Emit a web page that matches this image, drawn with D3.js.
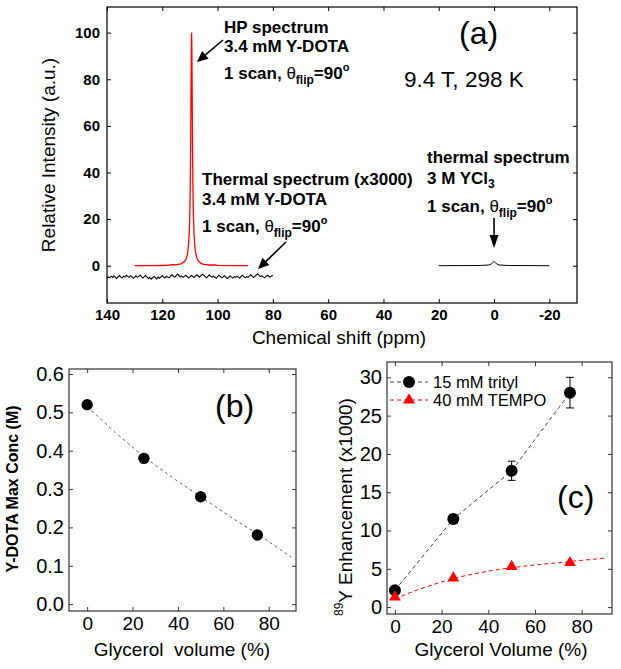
<!DOCTYPE html>
<html><head><meta charset="utf-8">
<script src="https://cdn.jsdelivr.net/npm/d3@7"></script>
<style>
body{margin:0;background:#fff}
svg{display:block}
text{font-family:"Liberation Sans",Arial,Helvetica,sans-serif}
</style>
</head><body>
<svg id="chart" width="621" height="669"></svg>
<script>
// ---------- DATA ----------
// (a) HP spectrum of 3.4 mM Y-DOTA (ppm, relative intensity)
const hpPpm = [130,125,120,118,116.6,115,113,112,111.5,111,110.8,110.5,110.3,110.1,110.0,109.9,109.8,109.7,109.6,109.5,109.45,109.4,109.35,109.3,109.2,109.1,109.0,108.9,108.8,108.7,108.5,108.3,108.0,107.5,107,106,105,103,101,100,95,89];
const hpInt = [0,0.05,0.1,0.15,0.5,0.4,0.9,1.8,2.6,4.4,5.9,9.2,13.1,20.0,25.4,32.9,43.4,57.6,75.4,92.5,98,100,97,93,75.4,57.6,43.4,32.9,25.4,20.0,13.1,9.2,5.9,3.3,2.1,1.0,0.6,0.3,0.35,0.15,0.05,0];
// (a) thermal spectrum x3000 (noise), sampled from 140 to 80 ppm
const thermalRange = [140, 80];
const thermalInt = [
-5.4,-4.8,-5.2,-4.5,-5.0,-4.3,-4.9,-5.5,-4.7,-4.2,
-4.9,-5.2,-4.5,-4.8,-4.1,-4.6,-5.0,-4.3,-4.7,-5.4,
-4.9,-4.4,-5.0,-4.6,-4.0,-4.8,-5.3,-4.7,-4.2,-4.9,
-5.6,-5.0,-5.8,-5.2,-4.6,-5.1,-5.7,-4.9,-5.4,-4.8,
-4.2,-4.9,-5.3,-4.5,-4.9,-5.2,-4.4,-3.9,-4.6,-5.0,
-4.3,-3.6,-4.2,-4.8,-4.4,-5.0,-4.6,-4.1,-4.7,-5.3,
-4.8,-4.2,-4.6,-5.1,-4.5,-3.9,-4.4,-4.9,-4.3,-3.7,
-4.1,-4.7,-5.2,-4.6,-4.0,-4.5,-5.0,-4.4,-4.9,-5.4,
-4.7,-4.1,-4.6,-5.2,-4.8,-4.3,-4.9,-5.5,-5.0,-4.4,
-4.8,-5.3,-4.7,-5.0,-4.5,-4.9,-5.4,-4.6,-4.1,-4.7,
-5.2,-4.6,-5.0,-4.4,-3.9,-4.5,-5.1,-4.6,-4.0,-3.5,
-4.1,-4.7,-4.3,-4.8,-5.2,-4.6,-4.1,-4.5,-4.9,-4.4,
-4.2];
// (a) thermal spectrum of 3 M YCl3
const yclPpm = [20,5,2,1,0.5,0,-0.5,-1,-2,-5,-20];
const yclInt = [0,0.1,0.3,0.7,1.3,1.9,1.3,0.7,0.3,0.1,0];
const shiftTicks = [140,120,100,80,60,40,20,0,-20];
const intensityTicks = [0,20,40,60,80,100];

// (b) Y-DOTA max concentration vs glycerol volume
const glycerol = [0,25,50,75];
const maxConc = [0.52,0.38,0.28,0.18];
const concFitX = [0,12.5,25,37.5,50,62.5,75,90];
const concFitY = [0.515,0.447,0.384,0.33,0.28,0.23,0.183,0.122];
const glycerolTicks = [0,20,40,60,80];
const concTicks = [0,0.1,0.2,0.3,0.4,0.5,0.6];

// (c) 89Y enhancement vs glycerol volume
const seriesNames = ["15 mM trityl","40 mM TEMPO"];
const tritylEnh = [2.2,11.5,17.8,28.0];
const tritylErr = [0.3,0.6,1.25,2.0];
const tempoEnh = [1.3,3.8,5.3,5.8];
const tempoFitX = [0,10,20,30,40,50,60,70,80,90];
const tempoFitY = [1.1,2.3,3.3,4.1,4.7,5.15,5.5,5.8,6.1,6.4];
const enhTicks = [0,5,10,15,20,25,30];

// ---------- DRAW ----------
const svg = d3.select("#chart");
svg.append("rect").attr("width",621).attr("height",669).attr("fill","#fff");
const plainInt = d => String(d);

function frame(g, x, y, xt, yt, o){
  const [x0,x1] = x.range(), [y0,y1] = y.range();
  const ax = g.append("g").attr("transform",`translate(0,${y0})`)
    .call(d3.axisBottom(x).tickValues(xt).tickSizeInner(-4).tickSizeOuter(0).tickPadding(o.xpad).tickFormat(o.xfmt||plainInt));
  const ay = g.append("g").attr("transform",`translate(${x0},0)`)
    .call(d3.axisLeft(y).tickValues(yt).tickSizeInner(-4).tickSizeOuter(0).tickPadding(o.ypad).tickFormat(o.yfmt||plainInt));
  const at = g.append("g").attr("transform",`translate(0,${y1})`)
    .call(d3.axisTop(x).tickValues(xt).tickSizeInner(-4).tickSizeOuter(0).tickFormat(""));
  const ar = g.append("g").attr("transform",`translate(${x1},0)`)
    .call(d3.axisRight(y).tickValues(yt).tickSizeInner(-4).tickSizeOuter(0).tickFormat(""));
  [ax,ay,at,ar].forEach(a=>{a.select(".domain").remove(); a.selectAll("line").attr("stroke",o.color);});
  ax.selectAll("text").attr("font-size",o.xfs).attr("font-weight",o.xfw).attr("fill","#000").attr("font-family",null);
  ay.selectAll("text").attr("font-size",o.yfs).attr("font-weight",o.yfw).attr("fill","#000").attr("font-family",null);
  g.append("rect").attr("x",x0).attr("y",y1).attr("width",x1-x0).attr("height",y0-y1)
    .attr("fill","none").attr("stroke",o.color).attr("stroke-width",1.2);
}

function arrow(g,x1,y1,x2,y2,hl,hw){
  const a = Math.atan2(y2-y1,x2-x1);
  const bx = x2 - hl*Math.cos(a), by = y2 - hl*Math.sin(a);
  g.append("line").attr("x1",x1).attr("y1",y1).attr("x2",bx).attr("y2",by).attr("stroke","#000").attr("stroke-width",1.6);
  const px = -Math.sin(a)*hw/2, py = Math.cos(a)*hw/2;
  g.append("path").attr("d",`M${x2},${y2}L${bx+px},${by+py}L${bx-px},${by-py}Z`).attr("fill","#000");
}

function flipLine(g,x,y){
  const t = g.append("text").attr("x",x).attr("y",y).attr("font-size",17).attr("font-weight","bold");
  t.append("tspan").text("1 scan, ");
  t.append("tspan").attr("font-weight","normal").text("θ");
  t.append("tspan").attr("font-size",12).attr("dy",5).text("flip");
  t.append("tspan").attr("dy",-5).text("=90");
  t.append("tspan").attr("font-size",11).attr("dy",-8).text("o");
}

// ---- panel (a) ----
const ga = svg.append("g");
const xa = d3.scaleLinear().domain([140,-30]).range([107,577]);
const ya = d3.scaleLinear().domain([-16,111]).range([303,7]);
frame(ga, xa, ya, shiftTicks, intensityTicks, {xpad:6, ypad:7, xfs:15, yfs:15, xfw:"bold", yfw:"bold", color:"#000"});

const lineA = d3.line().x(d=>xa(d[0])).y(d=>ya(d[1]));
const thermalStep = (thermalRange[0]-thermalRange[1])/(thermalInt.length-1);
ga.append("path").datum(thermalInt.map((v,i)=>[thermalRange[0]-i*thermalStep, v]))
  .attr("d",lineA).attr("fill","none").attr("stroke","#000").attr("stroke-width",1.1);
ga.append("path").datum(hpPpm.map((p,i)=>[p,hpInt[i]]))
  .attr("d",lineA).attr("fill","none").attr("stroke","#ff0000").attr("stroke-width",1.3);
ga.append("path").datum(yclPpm.map((p,i)=>[p,yclInt[i]]))
  .attr("d",lineA).attr("fill","none").attr("stroke","#000").attr("stroke-width",1);

// annotations (a)
ga.append("text").attr("x",224).attr("y",33).attr("font-size",17).attr("font-weight","bold").text("HP spectrum");
ga.append("text").attr("x",224).attr("y",52).attr("font-size",17).attr("font-weight","bold").text("3.4 mM Y-DOTA");
flipLine(ga,224,79);
ga.append("text").attr("x",202).attr("y",185).attr("font-size",17).attr("font-weight","bold").text("Thermal spectrum (x3000)");
ga.append("text").attr("x",202).attr("y",205).attr("font-size",17).attr("font-weight","bold").text("3.4 mM Y-DOTA");
flipLine(ga,202,232);
ga.append("text").attr("x",427).attr("y",163).attr("font-size",17).attr("font-weight","bold").text("thermal spectrum");
const ycl = ga.append("text").attr("x",427).attr("y",184).attr("font-size",17).attr("font-weight","bold");
ycl.append("tspan").text("3 M YCl");
ycl.append("tspan").attr("font-size",12).attr("dy",4).text("3");
flipLine(ga,427,212);
ga.append("text").attr("x",404).attr("y",87).attr("font-size",22.5).text("9.4 T, 298 K");
ga.append("text").attr("x",459).attr("y",44).attr("font-size",32).text("(a)");
arrow(ga,223,40,197,62,11,10);
arrow(ga,286,242,258,269,11,10);
arrow(ga,xa(0),218,xa(0),248,13,9);

ga.append("text").attr("transform","translate(55,155) rotate(-90)").attr("text-anchor","middle").attr("font-size",19).text("Relative Intensity (a.u.)");
ga.append("text").attr("x",339).attr("y",344).attr("text-anchor","middle").attr("font-size",19).text("Chemical shift (ppm)");

// ---- panel (b) ----
const gb = svg.append("g");
const xb = d3.scaleLinear().domain([-8,92]).range([69,296]);
const yb = d3.scaleLinear().domain([-0.018,0.613]).range([611,369]);
frame(gb, xb, yb, glycerolTicks, concTicks, {xpad:6, ypad:5, xfs:19, yfs:20, xfw:"normal", yfw:"normal", color:"#333", yfmt:d3.format(".1f")});
gb.append("path").datum(concFitX.map((v,i)=>[v,concFitY[i]]))
  .attr("d",d3.line().x(d=>xb(d[0])).y(d=>yb(d[1])))
  .attr("fill","none").attr("stroke","#666").attr("stroke-width",1).attr("stroke-dasharray","3,3");
gb.selectAll("circle.pt").data(glycerol).join("circle").attr("class","pt")
  .attr("cx",d=>xb(d)).attr("cy",(d,i)=>yb(maxConc[i])).attr("r",5.7).attr("fill","#000");
gb.append("text").attr("x",215).attr("y",417).attr("font-size",32).text("(b)");
gb.append("text").attr("transform","translate(18,489) rotate(-90)").attr("text-anchor","middle").attr("font-size",16).attr("font-weight","bold").text("Y-DOTA Max Conc (M)");
gb.append("text").attr("x",182).attr("y",656).attr("text-anchor","middle").attr("font-size",19).style("white-space","pre").text("Glycerol  volume (%)");

// ---- panel (c) ----
const gc = svg.append("g");
const xc = d3.scaleLinear().domain([-3.4,93]).range([387,612]);
const yc = d3.scaleLinear().domain([-0.9,32]).range([614,362]);
frame(gc, xc, yc, glycerolTicks, enhTicks, {xpad:6, ypad:5, xfs:19, yfs:20, xfw:"normal", yfw:"normal", color:"#333"});
const lineC = d3.line().x(d=>xc(d[0])).y(d=>yc(d[1]));
gc.append("path").datum(tempoFitX.map((v,i)=>[v,tempoFitY[i]]))
  .attr("d",lineC).attr("fill","none").attr("stroke","#ff0000").attr("stroke-width",1).attr("stroke-dasharray","4,3");
gc.append("path").datum(glycerol.map((v,i)=>[v,tritylEnh[i]]))
  .attr("d",lineC).attr("fill","none").attr("stroke","#444").attr("stroke-width",1).attr("stroke-dasharray","4,3");
// error bars
const eb = gc.selectAll("g.eb").data(glycerol).join("g").attr("class","eb");
eb.append("line").attr("x1",d=>xc(d)).attr("x2",d=>xc(d))
  .attr("y1",(d,i)=>yc(tritylEnh[i]-tritylErr[i])).attr("y2",(d,i)=>yc(tritylEnh[i]+tritylErr[i])).attr("stroke","#000");
eb.append("line").attr("x1",d=>xc(d)-4).attr("x2",d=>xc(d)+4)
  .attr("y1",(d,i)=>yc(tritylEnh[i]+tritylErr[i])).attr("y2",(d,i)=>yc(tritylEnh[i]+tritylErr[i])).attr("stroke","#000");
eb.append("line").attr("x1",d=>xc(d)-4).attr("x2",d=>xc(d)+4)
  .attr("y1",(d,i)=>yc(tritylEnh[i]-tritylErr[i])).attr("y2",(d,i)=>yc(tritylEnh[i]-tritylErr[i])).attr("stroke","#000");
gc.selectAll("circle.pt").data(glycerol).join("circle").attr("class","pt")
  .attr("cx",d=>xc(d)).attr("cy",(d,i)=>yc(tritylEnh[i])).attr("r",6).attr("fill","#000");
const tri = d3.symbol(d3.symbolTriangle, 60);
gc.selectAll("path.tri").data(glycerol).join("path").attr("class","tri")
  .attr("d",tri).attr("transform",(d,i)=>`translate(${xc(d)},${yc(tempoEnh[i])})`).attr("fill","#ff0000");
// legend
const lg = gc.append("g");
lg.append("line").attr("x1",390).attr("x2",428).attr("y1",382).attr("y2",382).attr("stroke","#444").attr("stroke-dasharray","4,3");
lg.append("circle").attr("cx",409).attr("cy",382).attr("r",6).attr("fill","#000");
lg.append("text").attr("x",433).attr("y",382).attr("dy","0.35em").attr("font-size",16.5).text(seriesNames[0]);
lg.append("line").attr("x1",390).attr("x2",428).attr("y1",400).attr("y2",400).attr("stroke","#ff0000").attr("stroke-dasharray","4,3");
lg.append("path").attr("d",tri).attr("transform","translate(409,400)").attr("fill","#ff0000");
lg.append("text").attr("x",433).attr("y",400).attr("dy","0.35em").attr("font-size",16.5).text(seriesNames[1]);

gc.append("text").attr("x",557).attr("y",508).attr("font-size",32).text("(c)");
const yl = gc.append("text").attr("transform","translate(352,616) rotate(-90)").attr("font-size",19);
yl.append("tspan").attr("font-size",12).attr("dy",-9).text("89");
yl.append("tspan").attr("dy",9).text("Y Enhancement (x1000)");
gc.append("text").attr("x",501).attr("y",656).attr("text-anchor","middle").attr("font-size",19).text("Glycerol Volume (%)");
</script>
</body></html>
